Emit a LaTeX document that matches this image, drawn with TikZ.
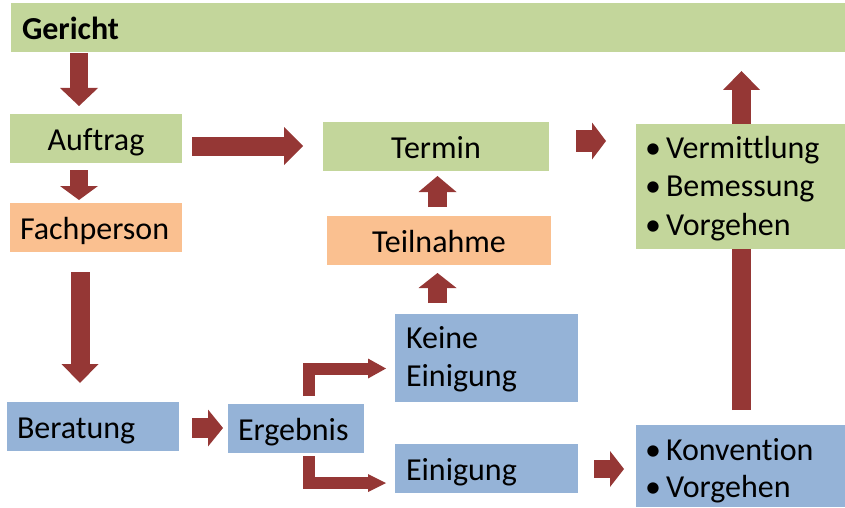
\documentclass[tikz,border=0pt]{standalone}
\usepackage{fontspec}
\setmainfont[Ligatures={NoCommon}]{Carlito}
\usetikzlibrary{arrows.meta,backgrounds}
\definecolor{boxgreen}{RGB}{195,214,155}
\definecolor{boxorange}{RGB}{250,192,144}
\definecolor{boxblue}{RGB}{149,179,215}
\definecolor{arrowred}{RGB}{149,55,53}
\tikzset{
  box/.style={rectangle, inner sep=0pt, outer sep=0pt, font=\fontsize{32}{38}\selectfont,
     text height=31pt, text depth=7pt},
  cbox/.style={box, align=center},
  lbox/.style={box, align=left, inner xsep=#1pt},
  blk/.style args={#1/#2/#3}{draw=arrowred, line width=#1pt, line join=miter,
     -{Triangle[width=#2pt,length=#3pt,line width=0pt]}},
}
\newcommand{\bul}[1]{\makebox[21pt][l]{\textbullet}#1}
\begin{document}
\begin{tikzpicture}[x=1pt,y=-1pt]
\useasboundingbox (0,0) rectangle (845,508);
% boxes
\node[lbox=11, fill=boxgreen, minimum width=834pt, minimum height=49pt, text width=812pt, font=\fontsize{32}{38}\selectfont\bfseries] (gericht) at (428,27.5) {Gericht};
\node[cbox, fill=boxgreen, minimum width=172pt, minimum height=49pt] (auftrag) at (96,138.5) {Auftrag};
\node[lbox=10, fill=boxorange, minimum width=172pt, minimum height=49pt, text width=152pt] (fach) at (96,227.5) {Fachperson};
\node[lbox=10, fill=boxblue, minimum width=172pt, minimum height=49pt, text width=152pt] (beratung) at (93,426.5) {Beratung};
\node[lbox=10, fill=boxblue, minimum width=136pt, minimum height=49pt, text width=116pt] (ergebnis) at (296,428.5) {Ergebnis};
\node[lbox=11, fill=boxblue, minimum width=183pt, minimum height=88pt, text width=161pt, text depth=51pt] (keine) at (486.5,358) {Keine\\Einigung};
\node[lbox=11, fill=boxblue, minimum width=183pt, minimum height=49pt, text width=161pt] (einigung) at (486.5,468.5) {Einigung};
\node[cbox, fill=boxgreen, minimum width=226pt, minimum height=49pt] (termin) at (436,146.5) {Termin};
\node[cbox, fill=boxorange, minimum width=224pt, minimum height=49pt] (teilnahme) at (439,240.5) {Teilnahme};
\node[lbox=9, fill=boxgreen, minimum width=209pt, minimum height=125pt, text width=191pt, text depth=88pt, font=\fontsize{32}{38.5}\selectfont] (verm) at (740.5,186.5) {\bul{Vermittlung}\\\bul{Bemessung}\\\bul{Vorgehen}};
\node[lbox=9, fill=boxblue, minimum width=209pt, minimum height=82pt, text width=191pt, text depth=43pt, font=\fontsize{32}{37}\selectfont] (konv) at (740.5,466) {\bul{Konvention}\\\bul{Vorgehen}};
% connector end points
\coordinate (a1s) at (79,53);   \coordinate (a1e) at (79,106);
\coordinate (a2s) at (79,170);  \coordinate (a2e) at (79,200);
\coordinate (a3s) at (80,272);  \coordinate (a3e) at (80,383);
\coordinate (a4s) at (192,146); \coordinate (a4e) at (303,146);
\coordinate (a5s) at (192,428); \coordinate (a5e) at (223,428);
\coordinate (b1s) at (309,396); \coordinate (b1e) at (386,368.5);
\coordinate (b2s) at (309,456); \coordinate (b2e) at (386,483);
\coordinate (a8s) at (437.5,207); \coordinate (a8e) at (437.5,176);
\coordinate (a9s) at (437.5,303); \coordinate (a9e) at (437.5,273);
\coordinate (a10s) at (576,141); \coordinate (a10e) at (606,141);
\coordinate (a11s) at (594,469); \coordinate (a11e) at (624,469);
\coordinate (a12s) at (741.5,410); \coordinate (a12e) at (741.5,71);
% connectors
\begin{scope}[on background layer]
\draw[blk=18/38/18] (a1s) -- (a1e);
\draw[blk=18/38/14] (a2s) -- (a2e);
\draw[blk=19/37/19] (a3s) -- (a3e);
\draw[blk=19/38/19] (a4s) -- (a4e);
\draw[blk=20/37/15] (a5s) -- (a5e);
\draw[blk=12/20/18] (b1s) |- (b1e);
\draw[blk=12/18/18] (b2s) |- (b2e);
\draw[blk=19/38/16] (a8s) -- (a8e);
\draw[blk=19/38/15] (a9s) -- (a9e);
\draw[blk=22/37/14] (a10s) -- (a10e);
\draw[blk=18/36/14] (a11s) -- (a11e);
\draw[blk=19/37/19] (a12s) -- (a12e);
\end{scope}
\end{tikzpicture}
\end{document}
